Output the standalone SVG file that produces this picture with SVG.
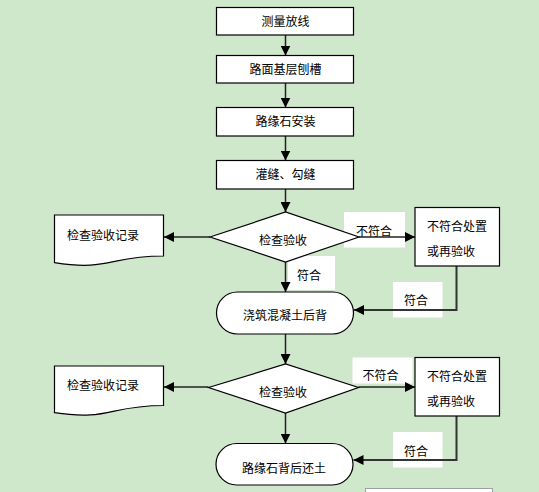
<svg xmlns="http://www.w3.org/2000/svg" width="539" height="492" viewBox="0 0 539 492">
<defs>
<style>
.bx{fill:#fff;stroke:#000;stroke-width:1.2}
.t{font-family:"Noto Sans CJK SC","Noto Sans CJK JP",sans-serif;font-size:12px;fill:#000}
.c{text-anchor:middle}
.ln{fill:none;stroke:#222;stroke-width:1.5}
.ln2{fill:none;stroke:#333;stroke-width:2}
.lbl{fill:#fff;stroke:none}
</style>
<marker id="ah" viewBox="0 0 10 10" refX="10" refY="5" markerWidth="10" markerHeight="10" markerUnits="userSpaceOnUse" orient="auto">
<path d="M0,0 L10,5 L0,10 Z" fill="#000"/>
</marker>
</defs>
<rect width="539" height="492" fill="#CFE7CB"/>

<g id="connectors">
<line class="ln" x1="285.5" y1="35" x2="285.5" y2="55.5" marker-end="url(#ah)"/>
<line class="ln" x1="285.5" y1="83" x2="285.5" y2="107.5" marker-end="url(#ah)"/>
<line class="ln" x1="285.5" y1="136" x2="285.5" y2="160.5" marker-end="url(#ah)"/>
<line class="ln" x1="285.5" y1="189" x2="285.5" y2="212" marker-end="url(#ah)"/>
<line class="ln" x1="210" y1="237" x2="164" y2="237" marker-end="url(#ah)"/>
<rect class="lbl" x="344" y="212" width="61" height="35.5"/>
<text class="t" x="356" y="236">不符合</text>
<line class="ln" x1="359" y1="237" x2="415" y2="237" marker-end="url(#ah)"/>
<rect class="lbl" x="288" y="256" width="47" height="34"/>
<line class="ln" x1="285.5" y1="262" x2="285.5" y2="292" marker-end="url(#ah)"/>
<text class="t" x="297" y="280">符合</text>
<rect class="lbl" x="393" y="282" width="49.5" height="35.5"/>
<text class="t" x="404" y="305">符合</text>
<polyline class="ln2" points="456.5,266 456.5,310 354,310" marker-end="url(#ah)"/>
<line class="ln" x1="285.5" y1="334" x2="285.5" y2="364" marker-end="url(#ah)"/>
<line class="ln" x1="208.5" y1="387" x2="164" y2="387" marker-end="url(#ah)"/>
<rect class="lbl" x="352.5" y="357.5" width="60" height="26"/>
<text class="t" x="362.5" y="379.5">不符合</text>
<line class="ln" x1="358.5" y1="387" x2="415" y2="387" marker-end="url(#ah)"/>
<line class="ln" x1="285.5" y1="413" x2="285.5" y2="443.5" marker-end="url(#ah)"/>
<rect class="lbl" x="393" y="432" width="49.5" height="35.5"/>
<text class="t" x="404" y="456">符合</text>
<polyline class="ln2" points="456.5,416 456.5,460 353.5,460" marker-end="url(#ah)"/>
</g>

<g id="n1"><rect class="bx" x="216.5" y="7.5" width="137" height="27.5"/><text class="t c" x="285.5" y="25.5">测量放线</text></g>
<g id="n2"><rect class="bx" x="216.5" y="55.5" width="137" height="27.5"/><text class="t c" x="285.5" y="73.5">路面基层刨槽</text></g>
<g id="n3"><rect class="bx" x="216.5" y="107.5" width="137" height="28.5"/><text class="t c" x="285.5" y="126">路缘石安装</text></g>
<g id="n4"><rect class="bx" x="216.5" y="160.5" width="137" height="28.5"/><text class="t c" x="285.5" y="179">灌缝、勾缝</text></g>

<g id="d1"><polygon class="bx" points="210,237 285.5,212 359,237 285.5,262"/><text class="t c" x="283" y="245">检查验收</text></g>
<g id="doc1"><path class="bx" d="M54.5,215 H163.5 V256 C109,256 109,271.5 54.5,262.6 Z"/><text class="t" x="67" y="239.5">检查验收记录</text></g>
<g id="r1"><rect class="bx" x="415" y="207.5" width="84.5" height="58.5"/><text class="t" x="427" y="230.5">不符合处置</text><text class="t" x="427" y="256">或再验收</text></g>
<g id="t1"><rect class="bx" x="216.5" y="292" width="137" height="42" rx="21" ry="21"/><text class="t c" x="285" y="319.5">浇筑混凝土后背</text></g>

<g id="d2"><polygon class="bx" points="208.5,387.5 285.5,364 358.5,387.5 285.5,413"/><text class="t c" x="283" y="397">检查验收</text></g>
<g id="doc2"><path class="bx" d="M54.5,366 H163.5 V405.5 C109,405.5 109,421 54.5,412.7 Z"/><text class="t" x="67" y="389.5">检查验收记录</text></g>
<g id="r2"><rect class="bx" x="415" y="357.5" width="84.5" height="58.5"/><text class="t" x="427" y="381">不符合处置</text><text class="t" x="427" y="406">或再验收</text></g>
<g id="t2"><rect class="bx" x="216" y="443.5" width="137" height="41.5" rx="20.75" ry="20.75"/><text class="t c" x="284" y="472.5">路缘石背后还土</text></g>

<g id="n5"><rect x="365.5" y="488.5" width="127" height="10" fill="#fff" stroke="#9aa3a0" stroke-width="1"/></g>
</svg>
